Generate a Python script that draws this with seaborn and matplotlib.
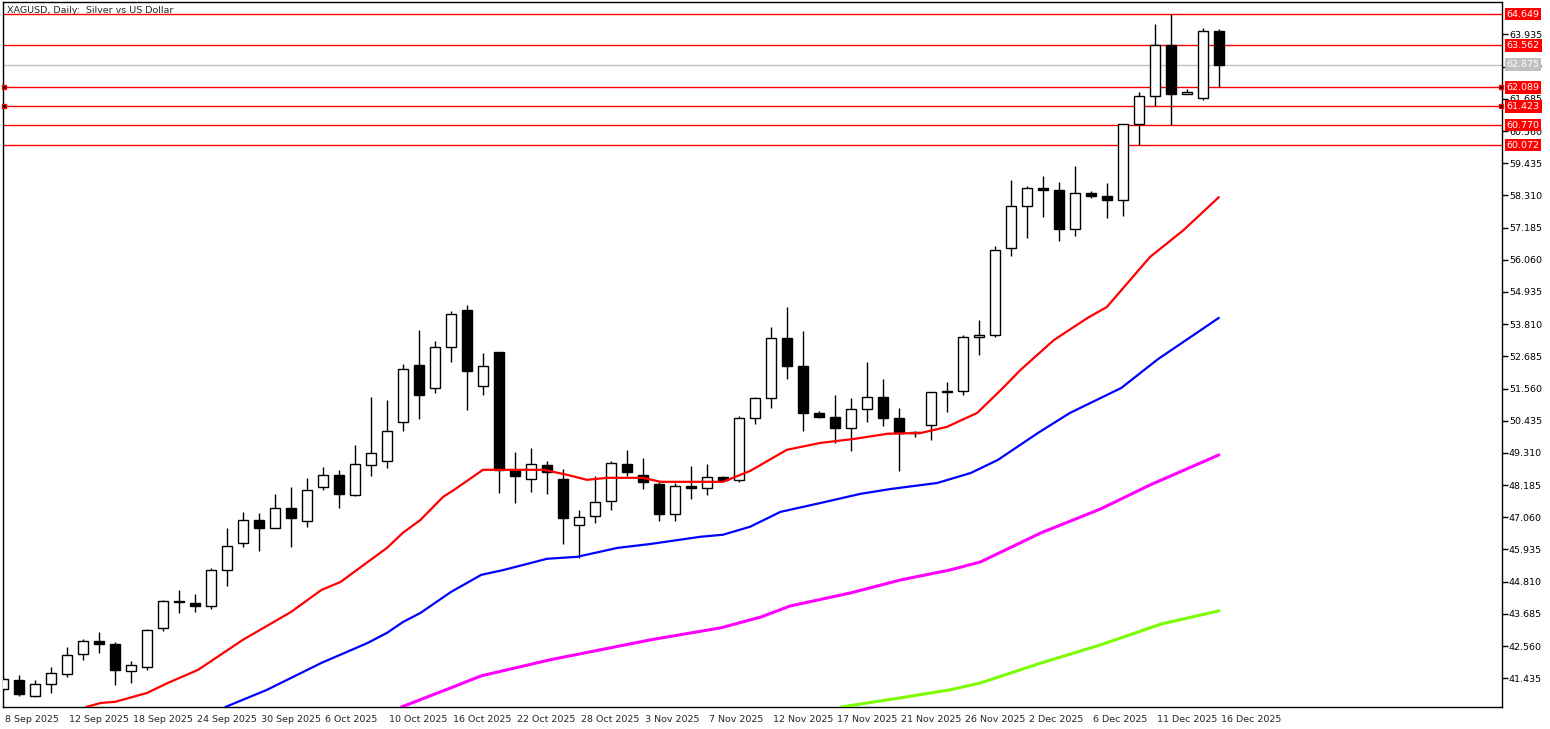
import matplotlib
matplotlib.use("Agg")
import matplotlib.pyplot as plt
import matplotlib.transforms as mtrans
import seaborn as sns
import numpy as np
import pandas as pd

sns.set_style("white")
plt.rcParams['font.family'] = ['DejaVu Sans']

date_labels = ["8 Sep 2025", "12 Sep 2025", "18 Sep 2025", "24 Sep 2025", "30 Sep 2025",
               "6 Oct 2025", "10 Oct 2025", "16 Oct 2025", "22 Oct 2025", "28 Oct 2025",
               "3 Nov 2025", "7 Nov 2025", "12 Nov 2025", "17 Nov 2025", "21 Nov 2025",
               "26 Nov 2025", "2 Dec 2025", "6 Dec 2025", "11 Dec 2025", "16 Dec 2025"]

opens = [41.06, 41.38, 40.82, 41.24, 41.59, 42.29, 42.74, 42.64, 41.69, 41.83,
         43.20, 44.10, 44.07, 43.96, 45.22, 46.17, 46.97, 46.69, 47.39, 46.93,
         48.12, 48.54, 47.84, 48.89, 49.03, 50.39, 52.37, 51.58, 53.01, 54.30,
         51.65, 52.84, 48.72, 48.40, 48.89, 48.40, 46.79, 47.11, 47.63, 48.93,
         48.54, 48.23, 47.18, 48.16, 48.09, 48.47, 48.37, 50.53, 51.23, 53.33,
         52.35, 50.71, 50.57, 50.18, 50.85, 51.27, 50.53, 50.04, 50.29, 51.48,
         51.48, 53.36, 53.43, 56.47, 57.94, 58.57, 58.50, 57.14, 58.40, 58.29,
         58.15, 60.80, 61.78, 63.56, 61.85, 61.71, 64.05]
highs = [41.48, 41.55, 41.38, 41.83, 42.53, 42.81, 43.06, 42.71, 42.04, 43.16,
         44.17, 44.52, 44.38, 45.29, 46.69, 47.25, 47.21, 47.88, 48.12, 48.44,
         48.82, 48.72, 49.59, 51.27, 51.16, 52.42, 53.59, 53.22, 54.27, 54.48,
         52.80, 52.84, 49.35, 49.49, 49.03, 48.75, 47.32, 48.51, 49.03, 49.42,
         49.14, 48.30, 48.26, 48.86, 48.93, 48.51, 50.60, 51.27, 53.71, 54.41,
         53.57, 50.78, 51.34, 51.23, 52.49, 51.90, 50.88, 50.08, 51.44, 51.79,
         53.43, 53.95, 56.54, 58.85, 58.64, 58.99, 58.78, 59.34, 58.47, 58.75,
         60.80, 61.92, 64.30, 64.65, 62.02, 64.16, 64.12]
lows = [40.99, 40.82, 40.78, 40.92, 41.48, 42.08, 42.32, 41.20, 41.27, 41.73,
        43.09, 43.72, 43.75, 43.86, 44.66, 46.03, 45.89, 46.69, 46.03, 46.72,
        48.02, 47.39, 47.81, 48.51, 48.79, 50.08, 50.49, 51.41, 52.49, 50.81,
        51.34, 47.91, 47.56, 47.95, 47.88, 46.13, 45.64, 46.86, 47.32, 48.51,
        48.05, 46.93, 46.93, 47.70, 47.84, 48.33, 48.30, 50.32, 50.88, 51.90,
        50.08, 50.53, 49.66, 49.38, 50.39, 50.25, 48.68, 49.87, 49.77, 50.74,
        51.34, 52.73, 53.36, 56.19, 56.82, 57.55, 56.72, 56.89, 58.22, 57.52,
        57.59, 60.07, 61.43, 60.77, 61.85, 61.64, 62.09]
closes = [41.41, 40.89, 41.24, 41.62, 42.25, 42.74, 42.64, 41.73, 41.90, 43.13,
          44.14, 44.12, 43.96, 45.22, 46.06, 46.97, 46.69, 47.39, 47.04, 48.02,
          48.54, 47.88, 48.93, 49.31, 50.08, 52.23, 51.34, 53.01, 54.16, 52.17,
          52.35, 48.72, 48.51, 48.93, 48.65, 47.04, 47.08, 47.60, 48.96, 48.65,
          48.30, 47.18, 48.16, 48.09, 48.47, 48.37, 50.53, 51.23, 53.33, 52.35,
          50.71, 50.57, 50.18, 50.85, 51.27, 50.53, 50.01, 50.01, 51.44, 51.44,
          53.36, 53.43, 56.40, 57.94, 58.57, 58.50, 57.14, 58.40, 58.29, 58.15,
          60.80, 61.78, 63.56, 61.85, 61.92, 64.05, 62.875]

ma_red_x = [5.2, 6.1, 7.0, 9.0, 10.3, 12.2, 15.0, 18.0, 19.9, 21.1, 22.8, 24.0, 25.0, 26.1, 27.5, 28.2,
            30.0, 33.8, 35.3, 36.5, 37.8, 40.0, 41.1, 45.0, 46.7, 49.0, 51.1, 53.2, 55.3, 57.4, 59.0,
            60.9, 62.5, 63.6, 65.7, 67.8, 69.0, 71.7, 73.8, 76.0]
ma_red_y = [40.43, 40.57, 40.61, 40.92, 41.27, 41.73, 42.78, 43.75, 44.52, 44.80, 45.50, 45.99, 46.52,
            46.97, 47.77, 48.02, 48.72, 48.72, 48.54, 48.37, 48.44, 48.44, 48.30, 48.30, 48.68, 49.42,
            49.66, 49.80, 49.98, 50.01, 50.22, 50.71, 51.58, 52.21, 53.26, 54.03, 54.41, 56.16, 57.10, 58.25]
ma_blue_x = [13.9, 16.5, 19.9, 22.8, 24.0, 25.0, 26.1, 28.0, 29.9, 31.3, 34.0, 35.9, 38.4, 40.5, 43.6,
             45.0, 46.7, 48.6, 51.1, 53.6, 55.5, 58.4, 60.5, 62.2, 64.7, 66.7, 69.9, 72.2, 76.0]
ma_blue_y = [40.43, 41.03, 41.97, 42.67, 43.02, 43.40, 43.72, 44.45, 45.05, 45.22, 45.61, 45.68, 45.99,
             46.13, 46.38, 46.45, 46.73, 47.25, 47.56, 47.88, 48.05, 48.26, 48.61, 49.07, 50.01, 50.71,
             51.58, 52.59, 54.03]
ma_mag_x = [24.9, 28.0, 29.9, 34.2, 40.5, 44.9, 47.4, 49.2, 53.0, 56.1, 59.2, 61.1, 64.9, 68.6, 71.7, 76.0]
ma_mag_y = [40.43, 41.10, 41.52, 42.08, 42.78, 43.20, 43.58, 43.96, 44.42, 44.87, 45.22, 45.50, 46.52,
            47.35, 48.19, 49.24]
ma_green_x = [52.4, 56.1, 59.2, 61.1, 64.9, 68.6, 72.4, 76.0]
ma_green_y = [40.43, 40.75, 41.03, 41.27, 41.97, 42.60, 43.33, 43.79]

red_levels = [64.649, 63.562, 62.089, 61.423, 60.770, 60.072]
grey_level = 62.875
ytick_vals = [63.935, 62.810, 61.685, 60.560, 59.435, 58.310, 57.185, 56.060, 54.935, 53.810, 52.685,
              51.560, 50.435, 49.310, 48.185, 47.060, 45.935, 44.810, 43.685, 42.560, 41.435]

FS = 6.8
W, H = 1550, 729
fig = plt.figure(figsize=(W / 100, H / 100), dpi=100)
ax = fig.add_axes([3 / W, 22 / H, 1499 / W, 705 / H])
ax.set_xlim(0.04, 93.7)
ax.set_ylim(40.43, 65.07)

df = pd.DataFrame({"o": opens, "h": highs, "l": lows, "c": closes})
df["x"] = np.arange(len(df))
bull = df["c"] >= df["o"]

ax.vlines(df["x"], df["l"], df["h"], color="black", lw=1, zorder=3)
bot = np.minimum(df["o"], df["c"])
hgt = np.maximum(np.abs(df["c"] - df["o"]), 0.03)
ax.bar(df["x"][bull], hgt[bull], bottom=bot[bull], width=0.62, facecolor="white",
       edgecolor="black", lw=1, zorder=4)
ax.bar(df["x"][~bull], hgt[~bull], bottom=bot[~bull], width=0.62, facecolor="black",
       edgecolor="black", lw=1, zorder=4)

for xs, ys, col, lw in [(ma_green_x, ma_green_y, "#7cfc00", 2.2), (ma_mag_x, ma_mag_y, "#ff00ff", 2.2),
                        (ma_blue_x, ma_blue_y, "#0000ff", 1.6), (ma_red_x, ma_red_y, "#ff0000", 1.6)]:
    sns.lineplot(x=xs, y=ys, ax=ax, color=col, lw=lw, zorder=5, sort=False)

for lv in red_levels:
    ax.axhline(lv, color="#ff0000", lw=1, zorder=2)
ax.axhline(grey_level, color="#c0c0c0", lw=1, zorder=2)
for lv in [62.089, 61.423]:
    ax.plot([0.05, 93.65], [lv, lv], ls="none", marker="s", ms=3.5, mfc="black", mec="#ff0000",
            clip_on=False, zorder=6)

ax.yaxis.tick_right()
ax.set_yticks(ytick_vals)
ax.set_yticklabels([f"{v:.3f}" for v in ytick_vals], fontsize=FS)
ax.tick_params(axis="y", length=4, width=1, direction="out", pad=1, colors="black")
ax.set_xticks(np.arange(0, 77, 4))
ax.set_xticklabels(date_labels, fontsize=FS, ha="left")
ax.tick_params(axis="x", length=5, width=1, direction="out", pad=1)
offset = mtrans.ScaledTranslation(2 / 100, 0, fig.dpi_scale_trans)
for lab in ax.get_xticklabels():
    lab.set_transform(lab.get_transform() + offset)

for lv in red_levels:
    ax.text(1.003, lv, f"{lv:.3f}", transform=ax.get_yaxis_transform(), fontsize=FS, color="white",
            va="center", ha="left", zorder=10,
            bbox=dict(boxstyle="square,pad=0.2", fc="#ff0000", ec="none"))
ax.text(1.003, grey_level, f"{grey_level:.3f}", transform=ax.get_yaxis_transform(), fontsize=FS,
        color="white", va="center", ha="left", zorder=10,
        bbox=dict(boxstyle="square,pad=0.2", fc="#c0c0c0", ec="none"))

for s in ax.spines.values():
    s.set_color("black")
    s.set_linewidth(1)
ax.text(0.003, 0.995, "XAGUSD, Daily:  Silver vs US Dollar", transform=ax.transAxes, fontsize=FS,
        va="top", ha="left")
ax.grid(False)
fig.savefig("out.png", dpi=100, facecolor="white")
